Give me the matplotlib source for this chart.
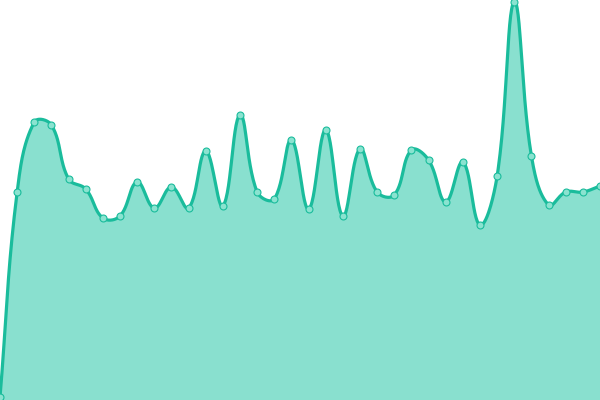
import matplotlib
matplotlib.use("Agg")
import matplotlib.pyplot as plt
import numpy as np

# values (0 = bottom edge, 400 = top edge)
values = [3, 208, 278, 275, 221, 211, 182, 184, 218, 192, 213, 192, 249, 194, 285,
          208, 201, 260, 191, 270, 184, 251, 208, 205, 250, 240, 198, 238, 175, 224,
          398, 244, 195, 208, 208, 214]

line_col = '#1abc9c'
fill_col = '#89e0cf'
point_col = '#8ae3d0'

W, H = 600, 400
n = len(values)
step = W / (n - 1)
px = np.arange(n) * step
py = np.array(values, dtype=float)

# smoothed line, chart.js style bezier with tension 0.4
tension = 0.4
cps = []
for i in range(n):
    prev = (px[max(i - 1, 0)], py[max(i - 1, 0)])
    cur = (px[i], py[i])
    nxt = (px[min(i + 1, n - 1)], py[min(i + 1, n - 1)])
    d01 = np.hypot(cur[0] - prev[0], cur[1] - prev[1])
    d12 = np.hypot(nxt[0] - cur[0], nxt[1] - cur[1])
    tot = d01 + d12
    s01 = d01 / tot if tot else 0
    s12 = d12 / tot if tot else 0
    fa = tension * s01
    fb = tension * s12
    c1 = (cur[0] - fa * (nxt[0] - prev[0]), cur[1] - fa * (nxt[1] - prev[1]))
    c2 = (cur[0] + fb * (nxt[0] - prev[0]), cur[1] + fb * (nxt[1] - prev[1]))
    cps.append((c1, c2))

xs, ys = [], []
t = np.linspace(0, 1, 30)
for i in range(n - 1):
    p0 = np.array([px[i], py[i]])
    p1 = np.array(cps[i][1])
    p2 = np.array(cps[i + 1][0])
    p3 = np.array([px[i + 1], py[i + 1]])
    seg = ((1 - t) ** 3)[:, None] * p0 + (3 * (1 - t) ** 2 * t)[:, None] * p1 \
        + (3 * (1 - t) * t ** 2)[:, None] * p2 + (t ** 3)[:, None] * p3
    xs.extend(seg[:, 0])
    ys.extend(seg[:, 1])

fig = plt.figure(figsize=(6, 4), dpi=100)
ax = fig.add_axes([0, 0, 1, 1])
ax.fill_between(xs, 0, ys, color=fill_col, linewidth=0)
ax.plot(xs, ys, color=line_col, linewidth=2.3, solid_capstyle='round')
ax.plot(px, py, 'o', markersize=5, markerfacecolor=point_col,
        markeredgecolor=line_col, markeredgewidth=0.8)
ax.set_xlim(0, W)
ax.set_ylim(0, H)
ax.axis('off')
fig.savefig('out.png', dpi=100)
